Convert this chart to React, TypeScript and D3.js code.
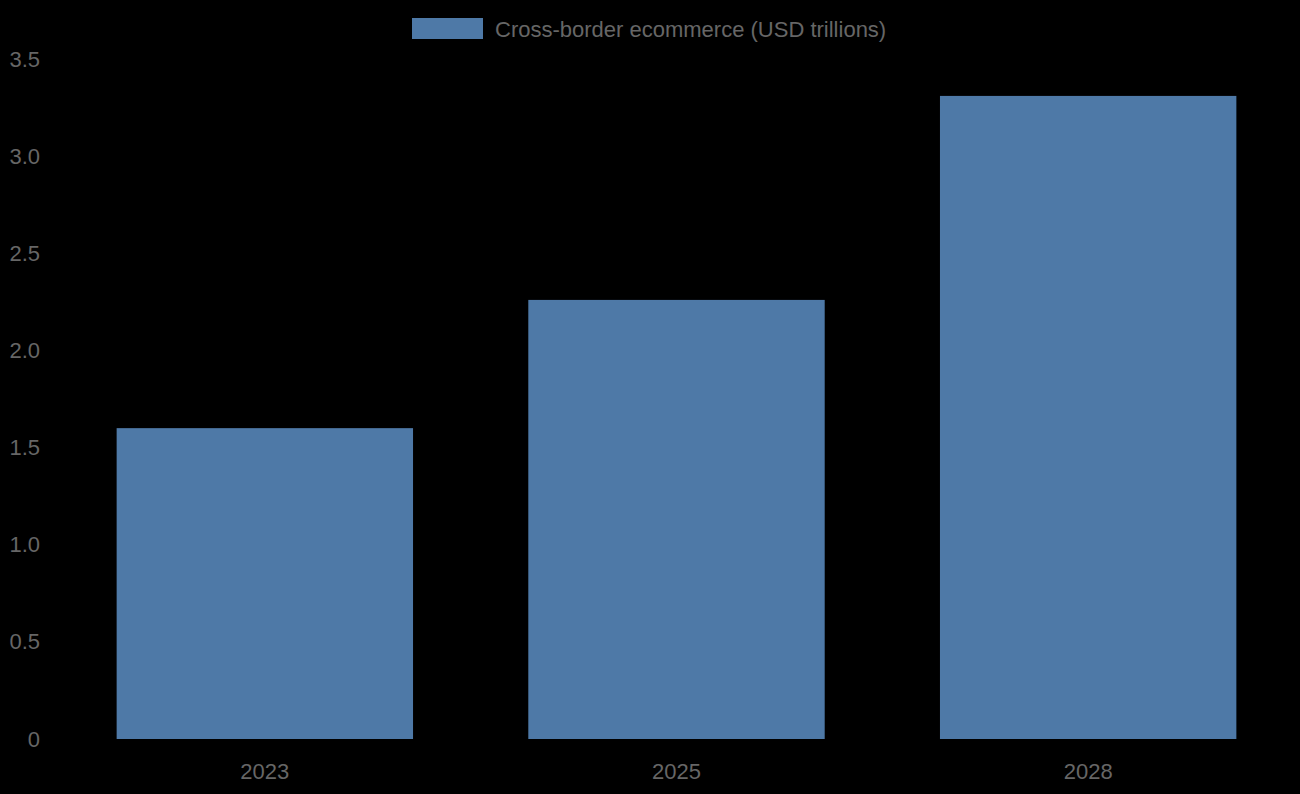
import { useEffect } from "react";
import * as d3 from "d3";

const years: string[] = ["2023", "2025", "2028"];
const values: number[] = [1.6, 2.26, 3.31];
const yTicks: number[] = [0, 0.5, 1, 1.5, 2, 2.5, 3, 3.5];
const seriesName = "Cross-border ecommerce (USD trillions)";

const W = 1300;
const H = 794;
const margin = { top: 59, right: 6, bottom: 55, left: 59 };
const barColor = "#4e79a7";
const textColor = "#666666";
const font = "'Liberation Sans', Arial, Helvetica, sans-serif";

const App = () => {
  useEffect(() => {
    document.body.style.margin = "0";
    document.body.style.background = "#000";
  }, []);

  const x = d3
    .scaleBand<string>()
    .domain(years)
    .range([margin.left, W - margin.right])
    .paddingInner(0)
    .paddingOuter(0);

  const y = d3
    .scaleLinear()
    .domain([0, 3.5])
    .range([H - margin.bottom, margin.top]);

  const barW = x.bandwidth() * 0.72;

  return (
    <svg
      width={W}
      height={H}
      style={{ position: "absolute", left: 0, top: 0, background: "#000", display: "block" }}
      fontFamily={font}
    >
      {/* grid */}
      {yTicks.map((t) => (
        <line
          key={"g" + t}
          x1={margin.left}
          x2={W - margin.right}
          y1={y(t)}
          y2={y(t)}
          stroke="rgba(0,0,0,0.1)"
        />
      ))}
      {/* bars */}
      {years.map((yr, i) => (
        <rect
          key={yr}
          x={(x(yr) as number) + (x.bandwidth() - barW) / 2}
          y={y(values[i])}
          width={barW}
          height={y(0) - y(values[i])}
          fill={barColor}
        />
      ))}
      {/* y axis labels */}
      {yTicks.map((t) => (
        <text
          key={"y" + t}
          x={40}
          y={y(t)}
          textAnchor="end"
          dominantBaseline="central"
          fontSize={22}
          fill={textColor}
        >
          {t === 0 ? "0" : d3.format(".1f")(t)}
        </text>
      ))}
      {/* x axis labels */}
      {years.map((yr) => (
        <text
          key={"x" + yr}
          x={(x(yr) as number) + x.bandwidth() / 2}
          y={771}
          textAnchor="middle"
          dominantBaseline="central"
          fontSize={22}
          fill={textColor}
        >
          {yr}
        </text>
      ))}
      {/* legend */}
      <rect x={412} y={18} width={71} height={21} fill={barColor} />
      <text x={495} y={29} dominantBaseline="central" fontSize={22} fill={textColor}>
        {seriesName}
      </text>
    </svg>
  );
};

export default App;
